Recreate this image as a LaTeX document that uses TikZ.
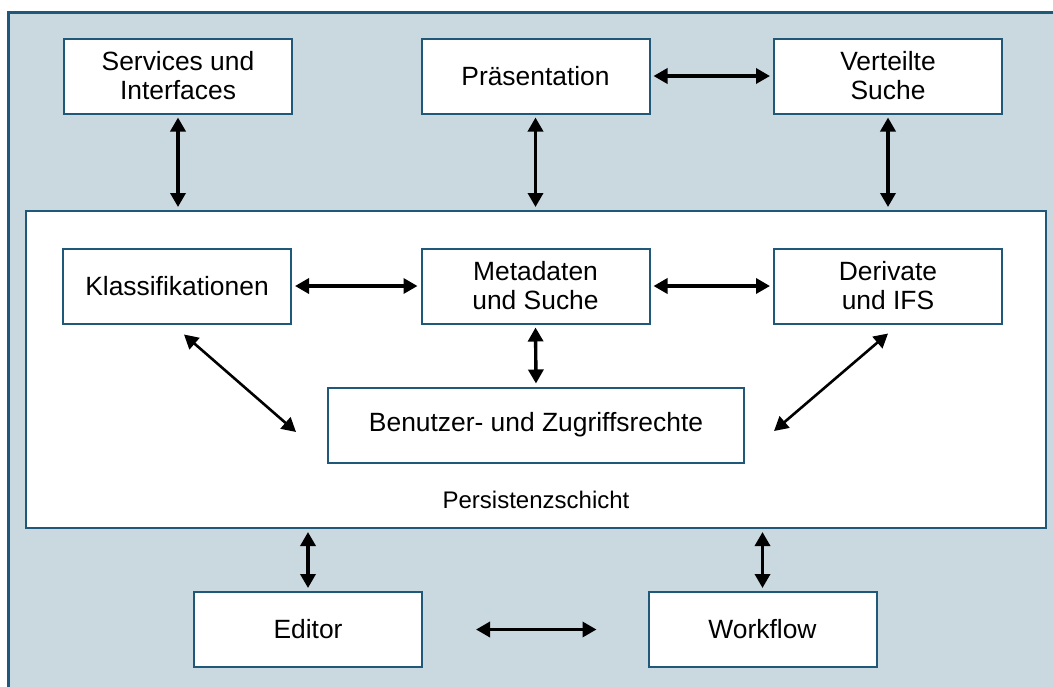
\documentclass[tikz,border=0pt]{standalone}
\usepackage{fontspec}
\setmainfont{Liberation Sans}
\usetikzlibrary{arrows.meta,calc,positioning}
\definecolor{rahmen}{HTML}{1F5878}
\definecolor{hinter}{HTML}{CAD9E0}
\tikzset{>={Triangle[length=7pt,width=7.5pt]},
  modul/.style={draw=rahmen,line width=1pt,fill=white,minimum width=114pt,
    minimum height=37.5pt,inner sep=0pt,align=center,
    font=\fontsize{13.2}{14.5}\selectfont},
  pfeil/.style={<->,line width=1.7pt,black,shorten >=1.5pt,shorten <=1.5pt}}

\begin{document}
\begin{tikzpicture}[x=0.5pt,y=-0.5pt]
        \useasboundingbox (0,0) rectangle (1053,686);
        \clip (0,0) rectangle (1053,686);
        \draw[rahmen,fill=hinter,line width=1.5pt] (8,12) rectangle (1080,720);

        % obere Reihe
        \node[modul] (serv) at (178,76) {Services und\\Interfaces};
        \node[modul] (praes) at (535.5,76) {Präsentation};
        \node[modul] (vert) at (888,76) {Verteilte\\Suche};

        % Persistenzschicht
        \node[modul,minimum width=510pt,minimum height=158.5pt] (persist) at (536,369.5) {};
        \node[font=\fontsize{12}{14}\selectfont] (pname) at (536,500) {Persistenzschicht};

        \node[modul] (klass) at (177,286) {Klassifikationen};
        \node[modul] (meta) at (535.5,286) {Metadaten\\und Suche};
        \node[modul] (deriv) at (888,286) {Derivate\\und IFS};
        \node[modul,minimum width=208pt] (benutz) at (536,425) {Benutzer- und Zugriffsrechte};

        % untere Reihe
        \node[modul] (editor) at (308,629.5) {Editor};
        \node[modul] (workflow) at (762.5,629.5) {Workflow};

        \coordinate (klassfuss) at ($(klass.south)+(7,10)$);
        \coordinate (benutzlinks) at ($(benutz.west)+(-31,7)$);
        \coordinate (derivfuss) at ($(deriv.south)+(0,9)$);
        \coordinate (benutzrechts) at ($(benutz.east)+(29,6)$);

        \draw[pfeil] (serv.south) -- (serv.south |- persist.north);
        \draw[pfeil] (praes.south) -- (praes.south |- persist.north);
        \draw[pfeil] (vert.south) -- (vert.south |- persist.north);
        \draw[pfeil] (praes.east) -- (vert.west);
        \draw[pfeil] (klass.east) -- (meta.west);
        \draw[pfeil] (meta.east) -- (deriv.west);
        \draw[pfeil] (meta.south) -- (benutz.north);
        \draw[pfeil,line width=1.3pt,shorten <=0pt,shorten >=0pt] (klassfuss) -- (benutzlinks);
        \draw[pfeil,line width=1.3pt,shorten <=0pt,shorten >=0pt] (derivfuss) -- (benutzrechts);
        \draw[pfeil] (editor.north) -- (editor.north |- persist.south);
        \draw[pfeil] (workflow.north) -- (workflow.north |- persist.south);
        \draw[pfeil,shorten <=26.5pt,shorten >=25.5pt] (editor.east) -- (workflow.west);

\end{tikzpicture}
\end{document}
